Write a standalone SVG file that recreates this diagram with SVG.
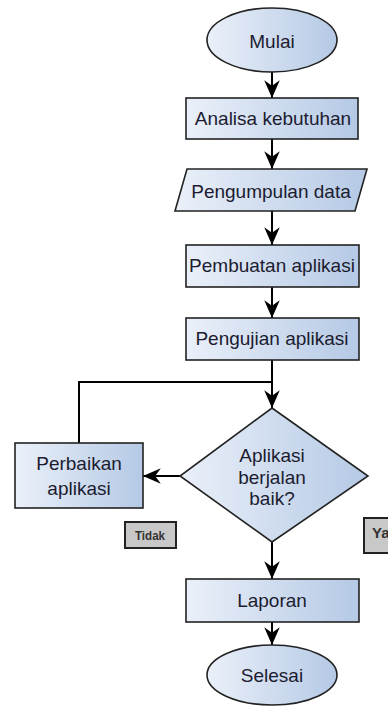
<svg xmlns="http://www.w3.org/2000/svg" width="388" height="708" viewBox="0 0 388 708">
<defs>
<linearGradient id="g" x1="0" y1="0" x2="1" y2="0">
<stop offset="0" stop-color="#eaf0f9"/>
<stop offset="1" stop-color="#b5c9e5"/>
</linearGradient>
<marker id="arr" markerUnits="userSpaceOnUse" markerWidth="20" markerHeight="20" viewBox="-17 -9 18 18" refX="0" refY="0" orient="auto">
<path d="M0,0 L-16,-7 L-11,0 L-16,7 Z" fill="#000"/>
</marker>
</defs>
<style>
.s{fill:url(#g);stroke:#222;stroke-width:1.6}
.t{font-family:"Liberation Sans",Arial,sans-serif;font-size:19px;fill:#1c1c30;text-anchor:middle;dominant-baseline:central}
.c{fill:none;stroke:#000;stroke-width:2}
.l{fill:#c8c8c8;stroke:#222;stroke-width:2}
.lt{font-family:"Liberation Sans",Arial,sans-serif;font-weight:bold;fill:#333;dominant-baseline:central}
</style>
<rect width="388" height="708" fill="#fff"/>
<g id="connectors">
<line class="c" x1="272" y1="72" x2="272" y2="98" marker-end="url(#arr)"/>
<line class="c" x1="272" y1="139" x2="272" y2="169" marker-end="url(#arr)"/>
<line class="c" x1="272" y1="211" x2="272" y2="245" marker-end="url(#arr)"/>
<line class="c" x1="272" y1="287" x2="272" y2="318" marker-end="url(#arr)"/>
<line class="c" x1="272" y1="360" x2="272" y2="408" marker-end="url(#arr)"/>
<polyline class="c" points="79,443 79,382 272,382"/>
<line class="c" x1="180" y1="476" x2="143" y2="476" marker-end="url(#arr)"/>
<line class="c" x1="272" y1="542" x2="272" y2="579" marker-end="url(#arr)"/>
<line class="c" x1="272" y1="622" x2="272" y2="645" marker-end="url(#arr)"/>
</g>
<g id="mulai">
<ellipse class="s" cx="272" cy="40" rx="65" ry="32"/>
<text class="t" x="272" y="41">Mulai</text>
</g>
<g id="analisa">
<rect class="s" x="186" y="98" width="172" height="41"/>
<text class="t" x="273" y="118">Analisa kebutuhan</text>
</g>
<g id="pengumpulan">
<polygon class="s" points="187,169 367,169 355,211 175,211"/>
<text class="t" x="271" y="191">Pengumpulan data</text>
</g>
<g id="pembuatan">
<rect class="s" x="186" y="245" width="173" height="42"/>
<text class="t" x="272" y="265">Pembuatan aplikasi</text>
</g>
<g id="pengujian">
<rect class="s" x="186" y="318" width="173" height="42"/>
<text class="t" x="272" y="338">Pengujian aplikasi</text>
</g>
<g id="keputusan">
<polygon class="s" points="272,408 368,476 272,542 180,476"/>
<text class="t" x="272" y="455">Aplikasi</text>
<text class="t" x="272" y="477">berjalan</text>
<text class="t" x="272" y="498">baik?</text>
</g>
<g id="perbaikan">
<rect class="s" x="15" y="443" width="128" height="65"/>
<text class="t" x="79" y="463">Perbaikan</text>
<text class="t" x="79" y="488">aplikasi</text>
</g>
<g id="tidak">
<rect class="l" x="125" y="522" width="51" height="26"/>
<text class="lt" x="135" y="535" font-size="13" textLength="30" lengthAdjust="spacingAndGlyphs">Tidak</text>
</g>
<g id="ya">
<rect class="l" x="364" y="518" width="30" height="35"/>
<text class="lt" x="372" y="532" font-size="15">Ya</text>
</g>
<g id="laporan">
<rect class="s" x="186" y="579" width="173" height="43"/>
<text class="t" x="272" y="600">Laporan</text>
</g>
<g id="selesai">
<ellipse class="s" cx="272" cy="675" rx="65" ry="30"/>
<text class="t" x="272" y="675">Selesai</text>
</g>
</svg>
